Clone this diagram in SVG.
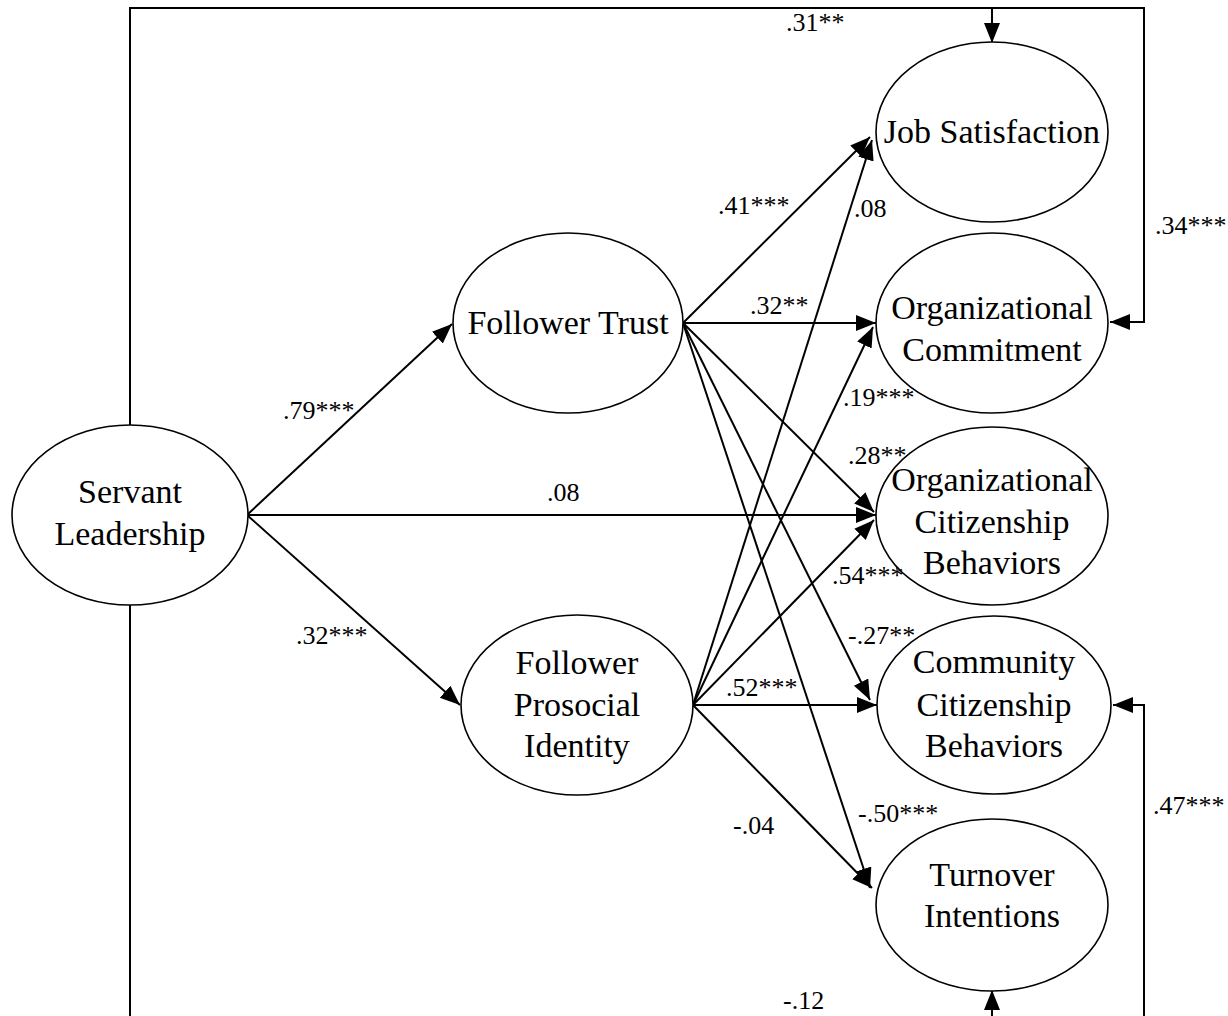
<svg xmlns="http://www.w3.org/2000/svg" width="1228" height="1016" viewBox="0 0 1228 1016">
<style>
.n ellipse{fill:#fff;stroke:#000;stroke-width:1.6}
.n text{font-family:"Liberation Serif","Times New Roman",serif;font-size:34px;fill:#000;text-anchor:middle}
.c path,.c line{fill:none;stroke:#000;stroke-width:2}
.lb text{font-family:"Liberation Serif","Times New Roman",serif;font-size:26px;fill:#000}
</style>
<defs>
<marker id="ah" markerUnits="userSpaceOnUse" markerWidth="22" markerHeight="18" refX="20" refY="8" orient="auto">
<path d="M0,0 L20,8 L0,16 z" fill="#000"/>
</marker>
</defs>
<rect width="1228" height="1016" fill="#fff"/>
<g class="c" id="connectors">
<path d="M130,425 V8 H1144 V322 H1110" marker-end="url(#ah)"/>
<path d="M992,8 V43" marker-end="url(#ah)"/>
<path d="M130,605 V1022 H1144 V705 H1113" marker-end="url(#ah)"/>
<path d="M992,1022 V990" marker-end="url(#ah)"/>
<line x1="247" y1="515" x2="452" y2="324" marker-end="url(#ah)"/>
<line x1="247" y1="515" x2="460" y2="705" marker-end="url(#ah)"/>
<line x1="247" y1="515" x2="876" y2="515" marker-end="url(#ah)"/>
<line x1="683" y1="323" x2="870" y2="137" marker-end="url(#ah)"/>
<line x1="683" y1="323" x2="876" y2="323" marker-end="url(#ah)"/>
<line x1="683" y1="323" x2="874" y2="512" marker-end="url(#ah)"/>
<line x1="683" y1="323" x2="870" y2="700" marker-end="url(#ah)"/>
<line x1="683" y1="323" x2="870" y2="888" marker-end="url(#ah)"/>
<line x1="693" y1="705" x2="872" y2="140" marker-end="url(#ah)"/>
<line x1="693" y1="705" x2="873" y2="327" marker-end="url(#ah)"/>
<line x1="693" y1="705" x2="874" y2="520" marker-end="url(#ah)"/>
<line x1="693" y1="705" x2="877" y2="705" marker-end="url(#ah)"/>
<line x1="693" y1="705" x2="872" y2="888" marker-end="url(#ah)"/>
</g>
<g class="n" id="servant-leadership"><ellipse cx="130" cy="515" rx="118" ry="90"/><text x="130" y="503">Servant</text><text x="130" y="545">Leadership</text></g>
<g class="n" id="follower-trust"><ellipse cx="568" cy="323" rx="115" ry="90"/><text x="568" y="334">Follower Trust</text></g>
<g class="n" id="follower-prosocial-identity"><ellipse cx="577" cy="705" rx="116" ry="90"/><text x="577" y="674">Follower</text><text x="577" y="716">Prosocial</text><text x="577" y="757">Identity</text></g>
<g class="n" id="job-satisfaction"><ellipse cx="992" cy="132" rx="116" ry="90"/><text x="992" y="143">Job Satisfaction</text></g>
<g class="n" id="organizational-commitment"><ellipse cx="992" cy="323" rx="116" ry="90"/><text x="992" y="319">Organizational</text><text x="992" y="361">Commitment</text></g>
<g class="n" id="ocb"><ellipse cx="992" cy="516" rx="116" ry="89"/><text x="992" y="491">Organizational</text><text x="992" y="533">Citizenship</text><text x="992" y="574">Behaviors</text></g>
<g class="n" id="ccb"><ellipse cx="994" cy="705" rx="117" ry="89"/><text x="994" y="673">Community</text><text x="994" y="716">Citizenship</text><text x="994" y="757">Behaviors</text></g>
<g class="n" id="turnover-intentions"><ellipse cx="992" cy="905" rx="116" ry="86"/><text x="992" y="886">Turnover</text><text x="992" y="927">Intentions</text></g>
<g class="lb" id="labels">
<text x="786" y="31">.31**</text>
<text x="1155" y="234">.34***</text>
<text x="718" y="214">.41***</text>
<text x="854" y="217">.08</text>
<text x="750" y="314">.32**</text>
<text x="843" y="406">.19***</text>
<text x="848" y="464">.28**</text>
<text x="283" y="419">.79***</text>
<text x="547" y="501">.08</text>
<text x="296" y="644">.32***</text>
<text x="832" y="584">.54***</text>
<text x="848" y="644">-.27**</text>
<text x="726" y="696">.52***</text>
<text x="733" y="834">-.04</text>
<text x="858" y="822">-.50***</text>
<text x="1153" y="814">.47***</text>
<text x="783" y="1009">-.12</text>
</g>
</svg>
